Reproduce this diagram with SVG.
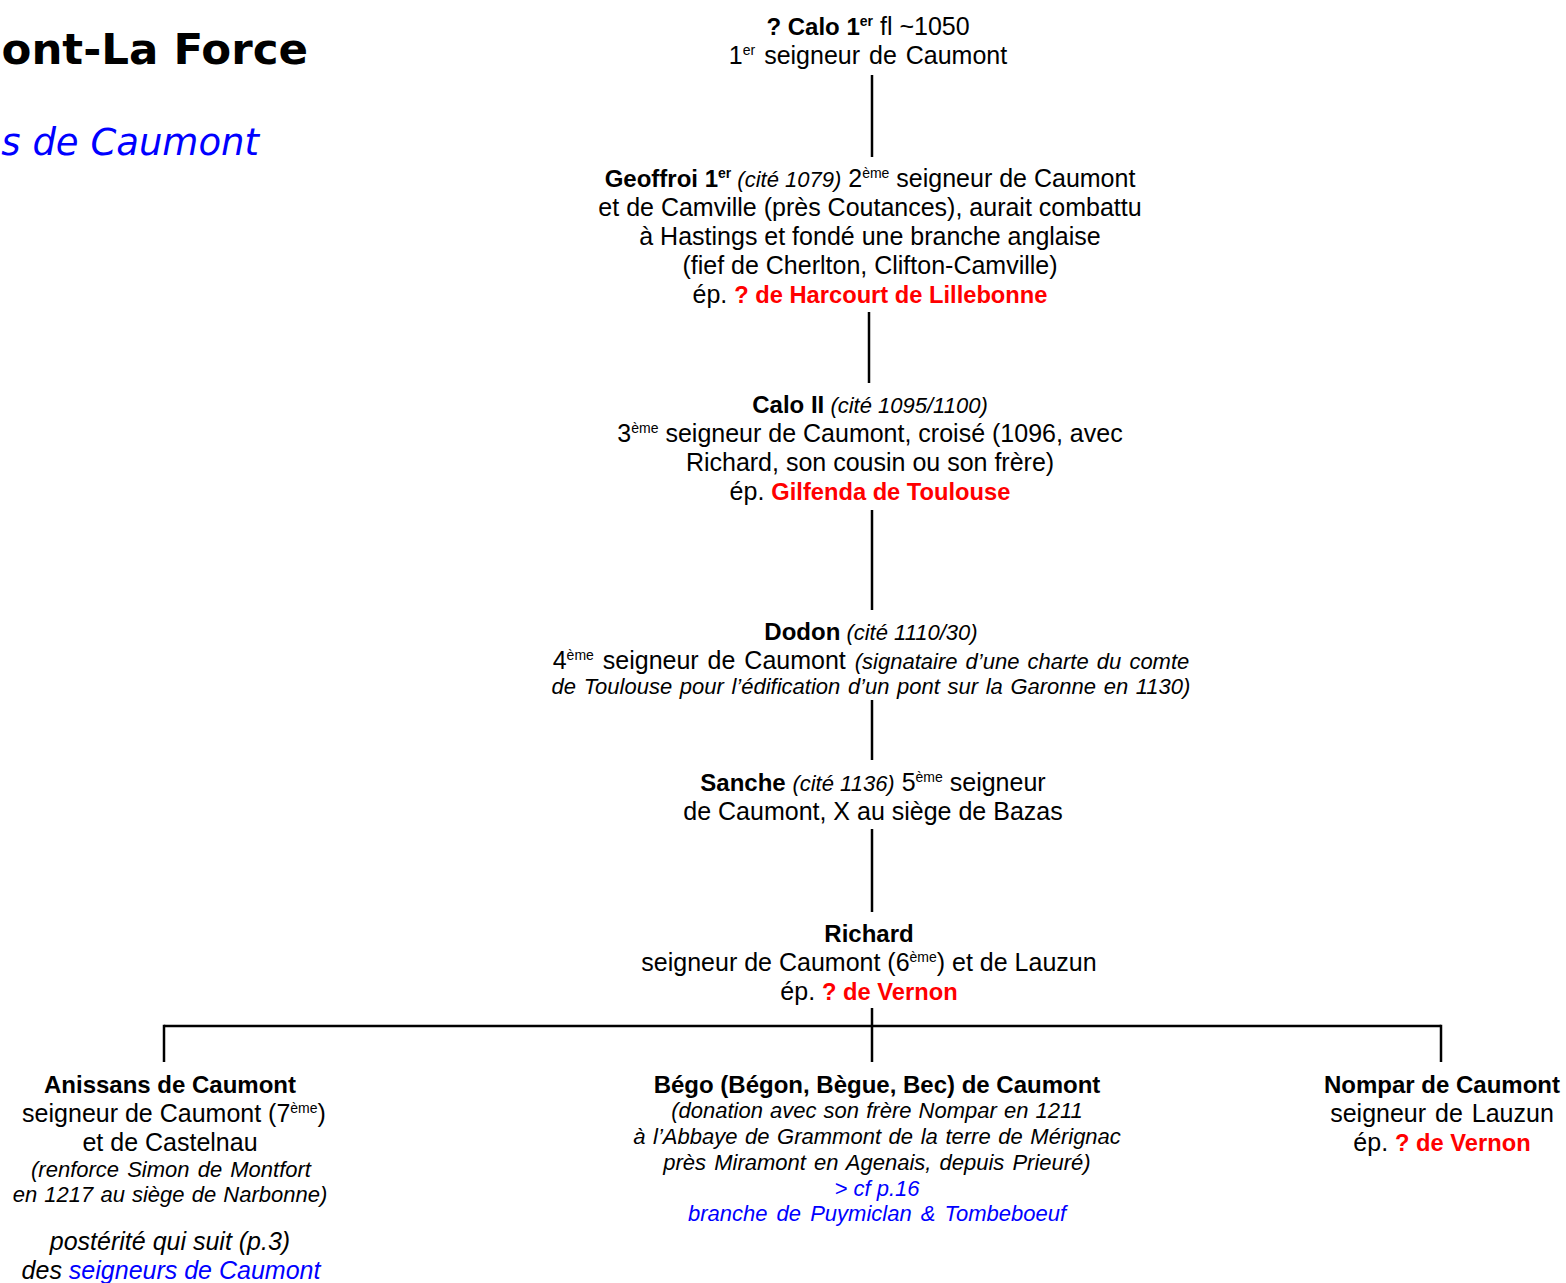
<svg xmlns="http://www.w3.org/2000/svg" width="1566" height="1283" viewBox="0 0 1566 1283">
<style>
text{font-family:"Liberation Sans",Arial,sans-serif;font-size:25px;fill:#000;text-anchor:middle}
.b{font-weight:bold;font-size:24px}
.i{font-style:italic}
.s{font-size:22px}
.sup{font-size:14px}
.red{fill:#ff0000;font-weight:bold;font-size:23.7px}
.blue{fill:#0000ff}
.title{font-family:"DejaVu Sans",Verdana,sans-serif;font-weight:bold;font-size:43.5px;text-anchor:end}
.sub{font-family:"DejaVu Sans",Verdana,sans-serif;font-style:italic;font-size:37px;text-anchor:end;fill:#0000ff}
.conn line{stroke:#000;stroke-width:2.5;fill:none}
</style>
<rect width="1566" height="1283" fill="#fff"/>
<g id="title">
<text class="title" x="308" y="64">ont-La Force</text>
<text class="sub" x="259" y="155">s de Caumont</text>
</g>
<g class="conn" id="connectors">
<line x1="872" y1="75" x2="872" y2="157"/>
<line x1="869" y1="312" x2="869" y2="383"/>
<line x1="872" y1="510" x2="872" y2="610"/>
<line x1="872" y1="700" x2="872" y2="760"/>
<line x1="872" y1="829" x2="872" y2="912"/>
<line x1="872" y1="1008" x2="872" y2="1062"/>
<line x1="164" y1="1026" x2="1441" y2="1026"/>
<line x1="164" y1="1024.75" x2="164" y2="1062"/>
<line x1="1441" y1="1024.75" x2="1441" y2="1062"/>
</g>
<g id="calo1">
<text x="868" y="35"><tspan class="b">? Calo 1</tspan><tspan class="b sup" dy="-9">er</tspan><tspan dy="9"> fl ~1050</tspan></text>
<text x="868" y="64" word-spacing="2">1<tspan class="sup" dy="-9">er</tspan><tspan dy="9"> seigneur de Caumont</tspan></text>
</g>
<g id="geoffroi">
<text x="870" y="187"><tspan class="b">Geoffroi 1</tspan><tspan class="b sup" dy="-9">er</tspan><tspan class="i s" dy="9"> (cité 1079)</tspan> 2<tspan class="sup" dy="-9">ème</tspan><tspan dy="9"> seigneur de Caumont</tspan></text>
<text x="870" y="216">et de Camville (près Coutances), aurait combattu</text>
<text x="870" y="245">à Hastings et fondé une branche anglaise</text>
<text x="870" y="274">(fief de Cherlton, Clifton-Camville)</text>
<text x="870" y="303">ép. <tspan class="red">? de Harcourt de Lillebonne</tspan></text>
</g>
<g id="calo2">
<text x="870" y="413"><tspan class="b">Calo II</tspan><tspan class="i s"> (cité 1095/1100)</tspan></text>
<text x="870" y="442">3<tspan class="sup" dy="-9">ème</tspan><tspan dy="9"> seigneur de Caumont, croisé (1096, avec</tspan></text>
<text x="870" y="471">Richard, son cousin ou son frère)</text>
<text x="870" y="500">ép. <tspan class="red">Gilfenda de Toulouse</tspan></text>
</g>
<g id="dodon">
<text x="871" y="640"><tspan class="b">Dodon</tspan><tspan class="i s"> (cité 1110/30)</tspan></text>
<text x="871" y="669" word-spacing="2">4<tspan class="sup" dy="-9">ème</tspan><tspan dy="9"> seigneur de Caumont </tspan><tspan class="i s">(signataire d’une charte du comte</tspan></text>
<text class="i s" x="871" y="694" word-spacing="1.5">de Toulouse pour l’édification d’un pont sur la Garonne en 1130)</text>
</g>
<g id="sanche">
<text x="873" y="791"><tspan class="b">Sanche </tspan><tspan class="i s"> (cité 1136)</tspan> 5<tspan class="sup" dy="-9">ème</tspan><tspan dy="9"> seigneur</tspan></text>
<text x="873" y="820">de Caumont, X au siège de Bazas</text>
</g>
<g id="richard">
<text class="b" x="869" y="942">Richard</text>
<text x="869" y="971">seigneur de Caumont (6<tspan class="sup" dy="-9">ème</tspan><tspan dy="9">) et de Lauzun</tspan></text>
<text x="869" y="1000">ép. <tspan class="red">? de Vernon</tspan></text>
</g>
<g id="anissans">
<text class="b" x="170" y="1093">Anissans de Caumont</text>
<text x="174" y="1122">seigneur de Caumont (7<tspan class="sup" dy="-9">ème</tspan><tspan dy="9">)</tspan></text>
<text x="170" y="1151">et de Castelnau</text>
<text class="i s" x="171" y="1177" word-spacing="2">(renforce Simon de Montfort</text>
<text class="i s" x="170" y="1202" word-spacing="1">en 1217 au siège de Narbonne)</text>
<text class="i" x="170" y="1250">postérité qui suit (p.3)</text>
<text class="i" x="171" y="1279">des <tspan class="blue">seigneurs de Caumont</tspan></text>
</g>
<g id="bego">
<text class="b" x="877" y="1093">Bégo (Bégon, Bègue, Bec) de Caumont</text>
<text class="i s" x="877" y="1118" word-spacing="1">(donation avec son frère Nompar en 1211</text>
<text class="i s" x="877" y="1144" word-spacing="1.5">à l’Abbaye de Grammont de la terre de Mérignac</text>
<text class="i s" x="877" y="1170" word-spacing="2">près Miramont en Agenais, depuis Prieuré)</text>
<text class="i s blue" x="877" y="1196">&gt; cf p.16</text>
<text class="i s blue" x="877" y="1221" word-spacing="3">branche de Puymiclan &amp; Tombeboeuf</text>
</g>
<g id="nompar">
<text class="b" x="1442" y="1093">Nompar de Caumont</text>
<text x="1442" y="1122" word-spacing="2">seigneur de Lauzun</text>
<text x="1442" y="1151">ép. <tspan class="red">? de Vernon</tspan></text>
</g>
</svg>
